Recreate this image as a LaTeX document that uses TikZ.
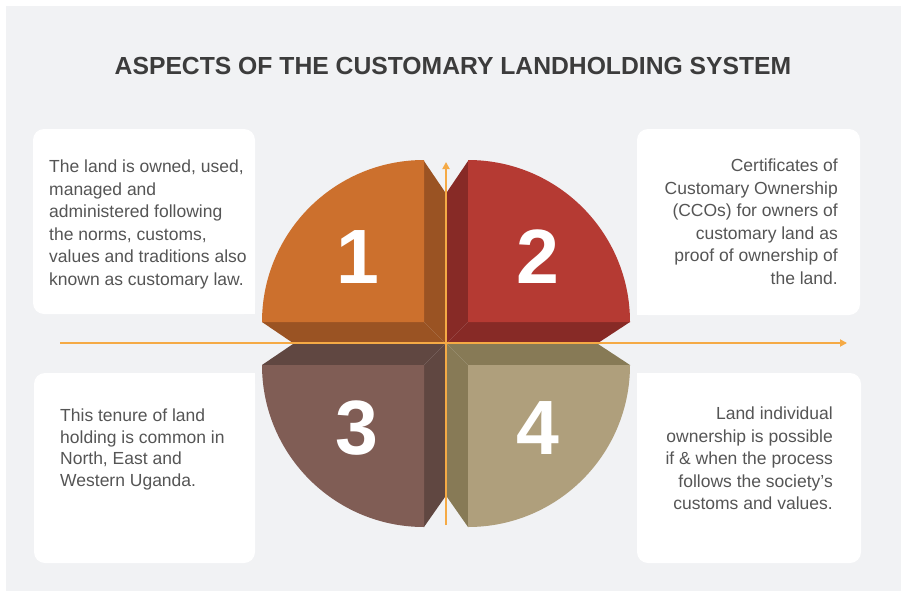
\documentclass[tikz,border=0pt]{standalone}
\usepackage{fontspec}
\setmainfont{Liberation Sans}
\usetikzlibrary{arrows.meta}
\definecolor{bg}{HTML}{F1F2F4}
\definecolor{titlec}{HTML}{3C3C3C}
\definecolor{bodyc}{HTML}{555555}
\definecolor{axisc}{HTML}{F5AA45}
\definecolor{qAf}{HTML}{CC702D}
\definecolor{qAs}{HTML}{9A5323}
\definecolor{qBf}{HTML}{B53A33}
\definecolor{qBs}{HTML}{872A26}
\definecolor{qCf}{HTML}{805D55}
\definecolor{qCs}{HTML}{604741}
\definecolor{qDf}{HTML}{AF9F7C}
\definecolor{qDs}{HTML}{877A56}
\tikzset{
  infobox/.style={fill=white, rounded corners=11pt, inner sep=0pt},
  bodytext/.style={inner sep=0pt, text=bodyc, font=\fontsize{17.5}{22.5}\selectfont},
  numtext/.style={inner sep=0pt, text=white, font=\fontsize{77}{80}\selectfont\bfseries},
  axisline/.style={draw=axisc, line width=2pt, -{Triangle[width=7pt,length=7pt]}}
}
\begin{document}
\begin{tikzpicture}[x=1pt,y=-1pt]
\useasboundingbox (0,0) rectangle (901,591);
\fill[white] (0,0) rectangle (901,591);
\fill[bg] (6,6) rectangle (901,591);

% title
\node[anchor=base, inner sep=0pt, text=titlec, font=\fontsize{24.7}{30}\selectfont\bfseries] (title) at (453,75) {ASPECTS OF THE CUSTOMARY LANDHOLDING SYSTEM};

% boxes
\node[infobox, minimum width=222pt, minimum height=185pt] (b1) at (144,221.5) {};
\node[infobox, minimum width=223pt, minimum height=186pt] (b2) at (748.5,222) {};
\node[infobox, minimum width=221pt, minimum height=190pt] (b3) at (144.5,468) {};
\node[infobox, minimum width=224pt, minimum height=190pt] (b4) at (749,468) {};
% square inner corners
\fill[white] (b1.south east) rectangle ++(-14,-14);
\fill[white] (b2.south west) rectangle ++(14,-14);
\fill[white] (b3.north east) rectangle ++(-14,14);
\fill[white] (b4.north west) rectangle ++(14,14);

% texts
\node[bodytext, anchor=north west, align=left] (t1) at (49,160) {The land is owned, used,\\managed and\\administered following\\the norms, customs,\\values and traditions also\\known as customary law.};
\node[bodytext, anchor=north east, align=right] (t2) at (838,159) {Certificates of\\Customary Ownership\\(CCOs) for owners of\\customary land as\\proof of ownership of\\the land.};
\node[bodytext, anchor=north west, align=left, font=\fontsize{17.5}{21.5}\selectfont] (t3) at (60,409) {This tenure of land\\holding is common in\\North, East and\\Western Uganda.};
\node[bodytext, anchor=north east, align=right] (t4) at (833,407) {Land individual\\ownership is possible\\if \& when the process\\follows the society's\\customs and values.};

% quadrant 1 (top-left)
\fill[qAs] (424,161) -- (445,192) -- (445,343) -- (424,322) -- cycle;
\fill[qAs] (262,322) -- (424,322) -- (445,343) -- (293,343) -- cycle;
\fill[qAf] (424,322) -- (262,322) arc[start angle=180, end angle=270, radius=162] -- cycle;
% quadrant 2 (top-right)
\fill[qBs] (468,161) -- (447,192) -- (447,343) -- (468,322) -- cycle;
\fill[qBs] (468,322) -- (630,322) -- (598,343) -- (447,343) -- cycle;
\fill[qBf] (468,322) -- (630,322) arc[start angle=0, end angle=-90, radius=162] -- cycle;
% quadrant 3 (bottom-left)
\fill[qCs] (262,365) -- (424,365) -- (445,344) -- (293,344) -- cycle;
\fill[qCs] (424,365) -- (445,344) -- (445,497) -- (424,527) -- cycle;
\fill[qCf] (424,365) -- (262,365) arc[start angle=180, end angle=90, radius=162] -- cycle;
% quadrant 4 (bottom-right)
\fill[qDs] (468,365) -- (630,365) -- (598,344) -- (447,344) -- cycle;
\fill[qDs] (468,365) -- (447,344) -- (447,497) -- (468,527) -- cycle;
\fill[qDf] (468,365) -- (630,365) arc[start angle=0, end angle=90, radius=162] -- cycle;

% numbers
\node[numtext] (n1) at (358,257) {1};
\node[numtext] (n2) at (538,257) {2};
\node[numtext] (n3) at (357,428) {3};
\node[numtext] (n4) at (538,428) {4};

% axes
\coordinate (hl) at (60,343);
\coordinate (hr) at (847,343);
\coordinate (vb) at (446,525);
\coordinate (vt) at (446,162);
\draw[axisline] (hl) -- (hr);
\draw[axisline] (vb) -- (vt);
\end{tikzpicture}
\end{document}
